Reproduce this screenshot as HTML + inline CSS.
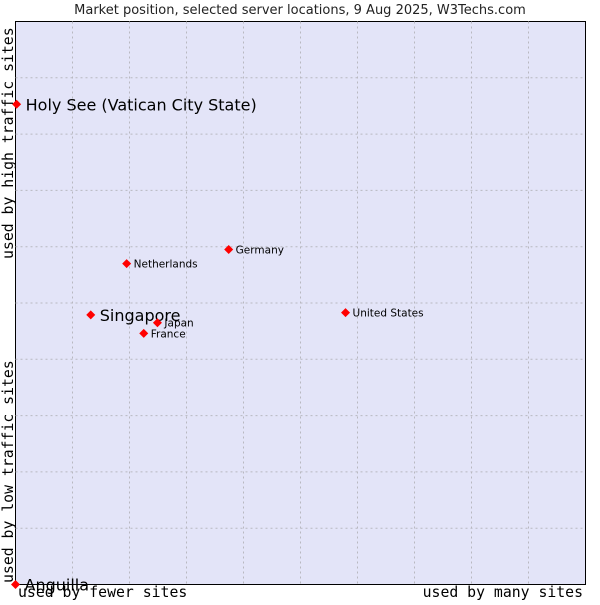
<!DOCTYPE html>
<html><head><meta charset="utf-8"><style>
body{margin:0;background:#fff;width:600px;height:600px;overflow:hidden}
svg text{font-family:"DejaVu Sans","Liberation Sans",sans-serif}
</style></head><body>
<svg id="chart" width="600" height="600">
<text x="300" y="14" text-anchor="middle" font-size="13" fill="#222">Market position, selected server locations, 9 Aug 2025, W3Techs.com</text>
<rect x="15.5" y="21.5" width="570" height="563" fill="#e3e4f8" stroke="#000"/>
<g id="grid"></g>
<g id="pts"></g>
<text transform="translate(13,259) rotate(-90)" font-size="14.8" fill="#000" style="font-family:'DejaVu Sans Mono',monospace">used by high traffic sites</text>
<text transform="translate(13,583) rotate(-90)" font-size="14.8" fill="#000" style="font-family:'DejaVu Sans Mono',monospace">used by low traffic sites</text>
<text x="18" y="597" font-size="14.8" fill="#000" style="font-family:'DejaVu Sans Mono',monospace">used by fewer sites</text>
<text x="583" y="597" text-anchor="end" font-size="14.8" fill="#000" style="font-family:'DejaVu Sans Mono',monospace">used by many sites</text>
</svg>
<script>
const labels=["Holy See (Vatican City State)","Singapore","Netherlands","Germany","United States","Japan","France","Anguilla"];
const xValues=[0.2,13.2,19.5,37.4,57.9,24.9,22.5,0];
const yValues=[85.3,47.9,57.0,59.5,48.3,46.5,44.6,0];
const bigLabel=[true,true,false,false,false,false,false,true];
const L=15.5,T=21.5,W=570,H=563;
const sx=v=>L+v/100*W, sy=v=>T+H-v/100*H;
const ns="http://www.w3.org/2000/svg";
const g=document.getElementById('grid');
for(let i=1;i<10;i++){
 const l=document.createElementNS(ns,'line');
 const x=sx(i*10);
 l.setAttribute('x1',x);l.setAttribute('x2',x);l.setAttribute('y1',T);l.setAttribute('y2',T+H);
 l.setAttribute('stroke','#b8b8c0');l.setAttribute('stroke-dasharray','2,3');
 
 
 g.appendChild(l);
 const h=document.createElementNS(ns,'line');
 const y=sy(i*10);
 h.setAttribute('x1',L);h.setAttribute('x2',L+W);h.setAttribute('y1',y);h.setAttribute('y2',y);
 h.setAttribute('stroke','#b8b8c0');h.setAttribute('stroke-dasharray','2,3');
 
 
 g.appendChild(h);
}
const p=document.getElementById('pts');
labels.forEach((lab,i)=>{
 const x=sx(xValues[i]),y=sy(yValues[i]);
 const d=document.createElementNS(ns,'path');
 d.setAttribute('d',`M${x-4.5},${y}L${x},${y-4.5}L${x+4.5},${y}L${x},${y+4.5}Z`);
 d.setAttribute('fill','#f00');
 
 
 p.appendChild(d);
 const t=document.createElementNS(ns,'text');
 t.setAttribute('x',x+(bigLabel[i]?9:7));
 t.setAttribute('y',y+(bigLabel[i]?6:4));
 t.setAttribute('font-size',bigLabel[i]?16:10.5);
 t.setAttribute('fill','#000');
 t.textContent=lab;
 
 
 p.appendChild(t);
});
</script>
</body></html>
